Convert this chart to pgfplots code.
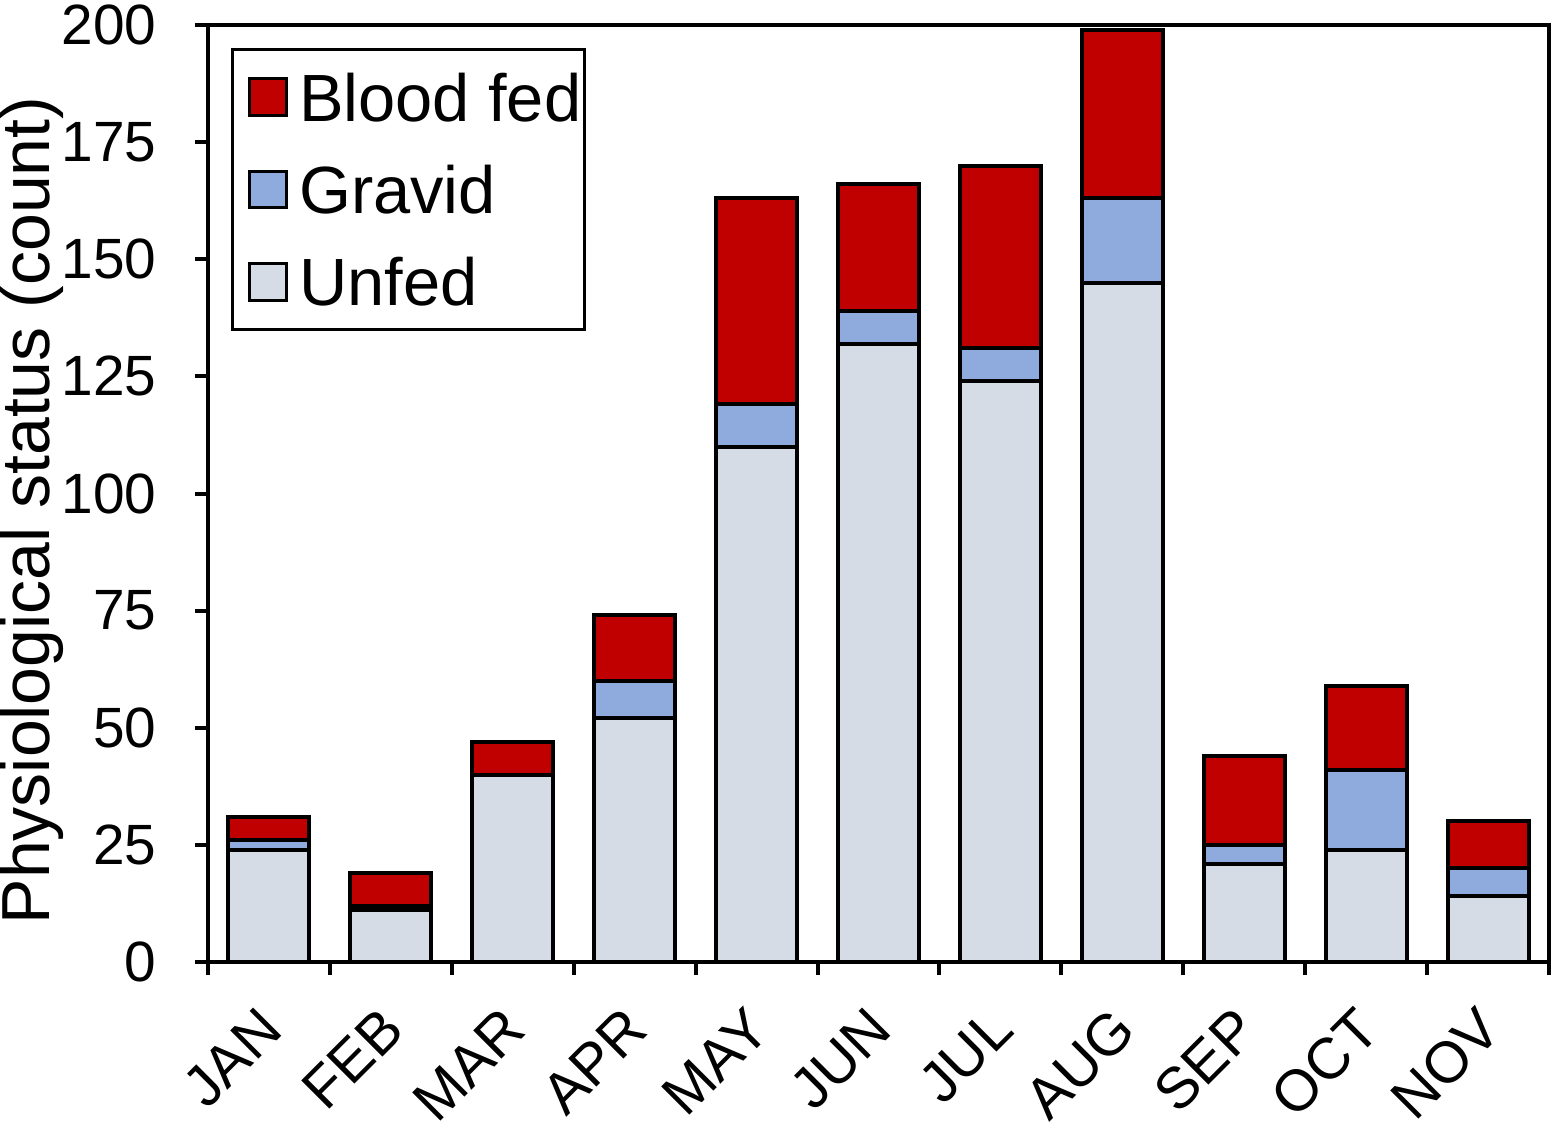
\documentclass[border=0pt]{standalone}
\usepackage{pgfplots}
\pgfplotsset{compat=1.18}
\usepackage{fontspec}
\setmainfont{Liberation Sans}
\definecolor{bfed}{HTML}{C00000}
\definecolor{grav}{HTML}{8FAADC}
\definecolor{unfed}{HTML}{D6DCE5}
\pgfplotstableread{
x unfed gravid bfed
0 24 2 5
1 11 1 7
2 40 0 7
3 52 8 14
4 110 9 44
5 132 7 27
6 124 7 39
7 145 18 36
8 21 4 19
9 24 17 18
10 14 6 10
}\datatab
\begin{document}
\begin{tikzpicture}
\begin{axis}[
  name=ax,
  scale only axis,
  width=335.25pt, height=234.25pt,
  xmin=-0.5, xmax=10.5, ymin=0, ymax=200,
  ybar stacked, bar width=20.25pt,
  xtick={0,...,10},
  xticklabels={JAN,FEB,MAR,APR,MAY,JUN,JUL,AUG,SEP,OCT,NOV},
  minor xtick={-0.5,0.5,...,10.5},
  ytick={0,25,...,200},
  xtick pos=bottom, ytick pos=left,
  tick align=outside,
  major tick length=3.25pt, minor tick length=3.25pt,
  tick style={black, line width=1pt},
  major x tick style={draw=none},
  axis line style={line width=1pt},
  /pgf/number format/assume math mode=true,
  yticklabel style={font=\fontsize{14.2pt}{17pt}\selectfont, anchor=east, inner sep=0pt, xshift=-9.5pt},
  xticklabel style={font=\fontsize{14.5pt}{17pt}\selectfont, xshift=-3.1pt, yshift=-7.2pt, rotate=45, anchor=north east, inner sep=0pt},
  ylabel={Physiological status (count)},
  ylabel style={font=\fontsize{17pt}{20pt}\selectfont, at={(axis description cs:-0.131,0.482)}, anchor=center},
  legend style={at={(0.017,0.975)}, anchor=north west, draw=black, line width=0.75pt,
    font=\fontsize{16.7pt}{19pt}\selectfont, inner xsep=0.9pt, inner ysep=3.8pt,
    row sep=7.1pt,
    nodes={inner xsep=0pt, inner ysep=2pt, text height=12pt, text depth=0pt}},
  legend cell align=left,
  legend image code/.code={\path[draw=none, fill=none] (-3.5pt,0pt) -- (12.3pt,0pt);\draw[#1, line width=0.75pt] (0pt,-4.6pt) rectangle (9.25pt,4.6pt);},
  reverse legend,
]
\addplot[draw=black, line width=1pt, fill=unfed] table[x=x, y=unfed] {\datatab};
\addplot[draw=black, line width=1pt, fill=grav] table[x=x, y=gravid] {\datatab};
\addplot[draw=black, line width=1pt, fill=bfed] table[x=x, y=bfed] {\datatab};
\legend{Unfed, Gravid, Blood fed}
\end{axis}
\pgfresetboundingbox
\path ([xshift=-52pt, yshift=-41.25pt]ax.south west) rectangle ([xshift=1.25pt, yshift=6.25pt]ax.north east);
\end{tikzpicture}
\end{document}
